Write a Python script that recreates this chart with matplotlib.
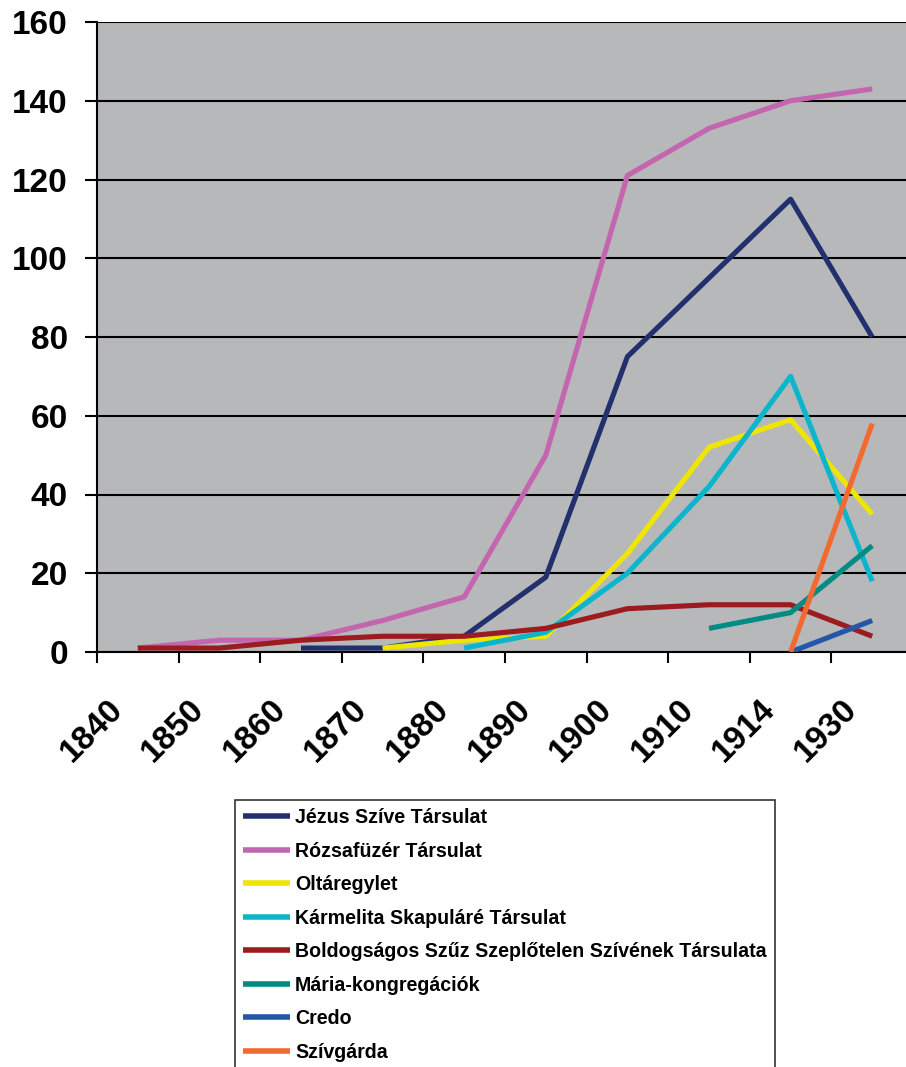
import numpy as np
import matplotlib
matplotlib.use('Agg')
import matplotlib.pyplot as plt
import matplotlib.transforms as mtransforms

# adatok (leolvasva az ábráról)
years = ['1840', '1850', '1860', '1870', '1880', '1890', '1900', '1910', '1914', '1930']
nan = np.nan

jezus = [nan, nan, 1, 1, 4, 19, 75, 95, 115, 80]
rozsafuzer = [1, 3, 3, 8, 14, 50, 121, 133, 140, 143]
oltaregylet = [nan, nan, nan, 1, 3, 4, 25, 52, 59, 35]
karmelita = [nan, nan, nan, nan, 1, 5, 20, 42, 70, 18]
boldogsagos = [1, 1, 3, 4, 4, 6, 11, 12, 12, 4]
maria = [nan, nan, nan, nan, nan, nan, nan, 6, 10, 27]
credo = [nan, nan, nan, nan, nan, nan, nan, nan, 0, 8]
szivgarda = [nan, nan, nan, nan, nan, nan, nan, nan, 0, 58]

series_names = [
    'Jézus Szíve Társulat',
    'Rózsafüzér Társulat',
    'Oltáregylet',
    'Kármelita Skapuláré Társulat',
    'Boldogságos Szűz Szeplőtelen Szívének Társulata',
    'Mária-kongregációk',
    'Credo',
    'Szívgárda',
]
series_values = [jezus, rozsafuzer, oltaregylet, karmelita, boldogsagos, maria, credo, szivgarda]
colors = ['#22306E', '#C465B0', '#EEE600', '#0BB5CC', '#9B1B1F', '#008C82', '#2457A8', '#F26A30']

plt.rcParams['font.family'] = ['Liberation Sans', 'DejaVu Sans']
plt.rcParams['font.weight'] = 'bold'

W, H = 906, 1067
fig = plt.figure(figsize=(W / 100, H / 100), dpi=100)
ax = fig.add_axes([97 / W, 1 - 652 / H, 816 / W, 630 / H])
ax.set_facecolor('#B7B8BA')

x = np.arange(len(years))
for i, (name, vals, col) in enumerate(zip(series_names, series_values, colors)):
    ax.plot(x, vals, color=col, lw=3.7, label=name, zorder=3 + i, solid_capstyle='butt')

ax.set_xlim(-0.5, len(years) - 0.5)
ax.set_ylim(0, 160)
ax.set_yticks(np.arange(0, 161, 20))
ax.yaxis.grid(True, color='black', lw=1.5, zorder=1)
ax.set_axisbelow(True)

for side in ['top', 'right']:
    ax.spines[side].set_visible(False)
ax.spines['left'].set_linewidth(1.5)
ax.spines['bottom'].set_linewidth(1.5)

ax.tick_params(axis='y', length=9, width=1.5, pad=12, labelsize=24)
for lbl in ax.get_yticklabels():
    lbl.set_fontweight('bold')

# kategória-tengely: osztásjelek a kategóriák között
ax.set_xticks(x)
ax.set_xticklabels(years, rotation=45, ha='right', va='center',
                   rotation_mode='anchor', fontsize=24, fontweight='bold')
ax.set_xticks(np.arange(-0.5, len(years), 1), minor=True)
ax.tick_params(axis='x', which='major', length=0, pad=38)
ax.tick_params(axis='x', which='minor', length=8, width=1.5)
shift = mtransforms.ScaledTranslation(-0.2, 0, fig.dpi_scale_trans)
for lbl in ax.get_xticklabels():
    lbl.set_transform(lbl.get_transform() + shift)

leg = ax.legend(loc='upper left', bbox_to_anchor=(235 / W, 1 - 800 / H),
                bbox_transform=fig.transFigure, borderaxespad=0,
                frameon=True, fancybox=False, edgecolor='black',
                prop={'size': 14.1, 'weight': 'bold'},
                handlelength=2.4, handletextpad=0.25, labelspacing=0.74,
                borderpad=0.42)
leg.get_frame().set_linewidth(1.2)
for line in leg.get_lines():
    line.set_linewidth(4)

fig.savefig('out.png', dpi=100)
